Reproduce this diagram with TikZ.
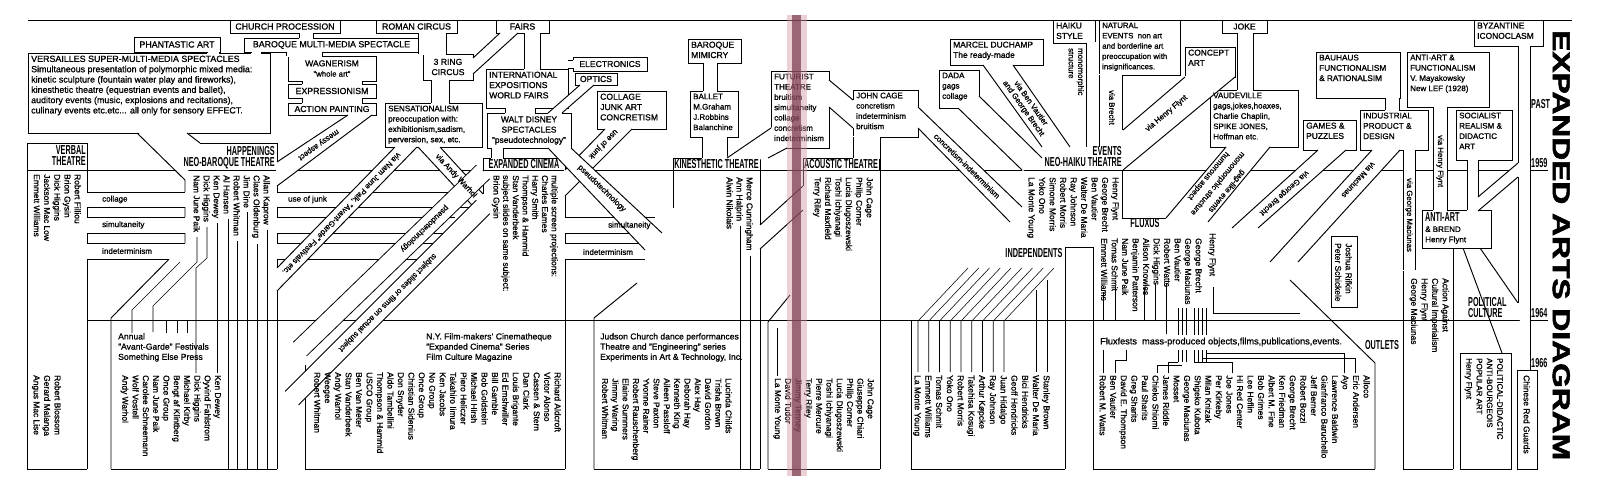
\documentclass[tikz,border=0pt]{standalone}
\usepackage{fontspec}
\setmainfont{Liberation Sans}[UprightFeatures={FakeBold=1}]
\newfontfamily\heavy[BoldFeatures={FakeBold=2}]{Liberation Sans}
\usepackage{graphicx}
\usepackage{etoolbox}
\definecolor{gutterpink}{HTML}{D49AA6}
\definecolor{gutterdark}{HTML}{7A3A4B}
\newcommand\hdf[1]{\scalebox{0.56}[1]{\fontsize{13}{13}\selectfont\bfseries #1}}
\tikzset{
  ln/.style={line width=0.95pt},
  tln/.style={line width=0.55pt},
  bxs/.style={draw, line width=0.95pt, fill=white, inner sep=0pt},
  btx/.style={anchor=north west, align=left, inner sep=0pt},
  btc/.style={align=center, inner sep=0pt},
  nm/.style={anchor=north west, rotate=-90, align=left, inner sep=0pt},
  vl/.style={anchor=west, rotate=-90, align=left, inner sep=0pt, font=\fontsize{7.8}{9.5}\selectfont},
  lab/.style={sloped, allow upside down, inner sep=0pt, align=center, font=\fontsize{7.8}{9}\selectfont},
  hd/.style={inner sep=0pt, align=right, font=\fontsize{11.5}{11.5}\selectfont},
  txt/.style={anchor=north west, align=left, inner sep=0pt, font=\fontsize{8.6}{10.2}\selectfont},
  cl/.style={anchor=west, inner sep=0pt, font=\fontsize{8}{9}\selectfont},
}
\def\boxtexts{}
\newcommand\bx[7]{%
  \node[bxs, minimum width=#4pt, minimum height=#5pt] (#1) at ({#2+#4/2},{#3+#5/2}) {};
  \gappto\boxtexts{\node[btx, font=\fontsize{#6}{10.3}\selectfont] (#1-t) at ({#2+3},{#3+2.5}) {#7};}}
\newcommand\bxc[7]{%
  \node[bxs, minimum width=#4pt, minimum height=#5pt] (#1) at ({#2+#4/2},{#3+#5/2}) {};
  \gappto\boxtexts{\node[btc, font=\fontsize{#6}{10.3}\selectfont] (#1-t) at ({#2+#4/2},{#3+#5/2}) {#7};}}
% free band (perpendicular ends)
\newcommand\band[5]{%
  \draw[line width=#5pt+1.9pt] (#1,#2)--(#3,#4);
  \draw[white,line width=#5pt, shorten <=-0.8pt, shorten >=-0.8pt] (#1,#2)--(#3,#4);}
% quad band: edge #1--#2 and edge #3--#4, open ends #1--#3 and #2--#4
\newcommand\qb[4]{%
  \fill[white] #1--#2--#4--#3--cycle;
  \draw[white, line width=2.6pt] #1--#3 #2--#4;
  \draw[ln] #1--#2 #3--#4;}
\newcommand\blab[7]{\path (#2,#3)--(#4,#5) node[lab, pos=#6] (#1) {#7};}
\newcommand\nms[5]{\node[nm, font=\fontsize{8.4}{#4}\selectfont] (#1) at (#2,#3) {#5};}
\begin{document}
\begin{tikzpicture}[x=1pt,y=-1pt]
\useasboundingbox (0,0) rectangle (1600,493);
\fill[white] (0,0) rectangle (1600,493);

% ---------- grid lines ----------
\draw[ln] (28,20)--(1572,20);
\draw[ln] (27,170)--(1548,170);
\draw[ln] (87,320)--(1548,320);
\draw[ln] (27,469)--(87,469) (111,469)--(277,469) (305,469)--(565,469) (594,469)--(760,469)
  (768,469)--(880,469) (911,469)--(1065,469) (1093,469)--(1375,469) (1403,469)--(1453,469);
\draw[ln] (27,143)--(27,469) (87,143)--(87,469) (27,143)--(87,143);
\draw[ln] (185,180)--(185,243)--(111,318)--(111,469);
\draw[ln] (200,143)--(277,143)--(277,469);
\draw[ln] (305,365)--(305,469);
\draw[ln] (483,158)--(483,200);
\draw[ln] (565,158)--(565,469);
\draw[ln] (673,158)--(673,208);
\draw[ln] (637,283)--(594,318)--(594,469);
\draw[ln] (760,158)--(760,469);
\draw[ln] (790,295)--(768,322)--(768,469);
\draw[ln] (803,158)--(803,188);
\draw[ln] (880,158)--(880,469);
\draw[ln] (911,320)--(911,469);
\draw[ln] (1065,247)--(1065,469) (1093,247)--(1093,469) (1065,247)--(1093,247);
\draw[ln] (1122,145)--(1122,218)--(1168,218);
\draw[ln] (1290,280)--(1375,363)--(1375,469);
\draw[ln] (1403,270)--(1403,469);
\draw[ln] (1453,248)--(1453,469);
\draw[ln] (1463,248)--(1502,353) (1480,248)--(1518,303);
\draw[ln] (1460,353) rectangle (1511,469);
\draw[ln] (1517,370) rectangle (1537,469);
\draw[ln] (1331,236) rectangle (1357,307);

% ---------- boxes ----------
\bxc{church}{230}{20}{110}{13}{8.8}{CHURCH PROCESSION}
\bxc{phant}{134}{37}{86}{15}{8.8}{PHANTASTIC ART}
\bxc{baroq}{244}{38}{175}{14}{8.8}{BAROQUE MULTI-MEDIA SPECTACLE}
\bxc{roman}{376}{20}{81}{13}{8.8}{ROMAN CIRCUS}
\bxc{fairs}{496}{20}{53}{13}{8.8}{FAIRS}
\bxc{ring}{423}{54}{50}{26}{8.6}{3 RING\\CIRCUS}
\bxc{wagner}{288}{56}{88}{25}{8.6}{WAGNERISM\\{\fontsize{7.8}{10}\selectfont"whole art"}}
\bxc{expr}{288}{84}{88}{14}{8.8}{EXPRESSIONISM}
\bxc{action}{288}{103}{88}{12}{8.6}{ACTION PAINTING}
\bx{vers}{28}{53}{242}{80}{8.9}{VERSAILLES SUPER-MULTI-MEDIA SPECTACLES\\Simultaneous presentation of polymorphic mixed media:\\kinetic sculpture (fountain water play and fireworks),\\kinesthetic theatre (equestrian events and ballet),\\auditory events (music, explosions and recitations),\\culinary events etc.etc... all only for sensory EFFECT.}
\bx{sens}{385}{103}{97}{44}{8.1}{SENSATIONALISM\\preoccupation with:\\exhibitionism,sadism,\\perversion, sex, etc.}
\bx{intl}{486}{69}{82}{39}{8.6}{INTERNATIONAL\\EXPOSITIONS\\WORLD FAIRS}
\bxc{electr}{573}{57}{74}{14}{8.6}{ELECTRONICS}
\bxc{optics}{575}{73}{42}{12}{8.6}{OPTICS}
\bxc{disney}{487}{113}{84}{35}{8.4}{WALT DISNEY\\SPECTACLES\\"pseudotechnology"}
\bx{colj}{597}{91}{69}{38}{8.6}{COLLAGE\\JUNK ART\\CONCRETISM}
\bx{mimic}{688}{39}{53}{24}{8.6}{BAROQUE\\MIMICRY}
\bx{ballet}{690}{91}{48}{46}{8}{BALLET\\M.Graham\\J.Robbins\\Balanchine}
\bx{futur}{771}{71}{58}{77}{8}{FUTURIST\\THEATRE\\bruitism\\simultaneity\\collage\\concretism\\indeterminism}
\bx{cage}{853}{90}{65}{47}{8}{JOHN CAGE\\concretism\\indeterminism\\bruitism}
\bx{dada}{939}{70}{40}{38}{8}{DADA\\gags\\collage}
\bx{duch}{950}{39}{93}{26}{8.4}{MARCEL DUCHAMP\\The ready-made}
\bx{haiku}{1053}{20}{42}{23}{8.4}{HAIKU\\STYLE}
\bx{natur}{1099}{20}{81}{55}{7.8}{NATURAL\\EVENTS\ \ non art\\and borderline art\\preoccupation with\\insignificances.}
\bx{concept}{1185}{47}{50}{30}{8.4}{CONCEPT\\ART}
\bxc{joke}{1222}{20}{45}{13}{8.6}{JOKE}
\bx{vaude}{1210}{90}{88}{57}{8}{VAUDEVILLE\\gags,jokes,hoaxes,\\Charlie Chaplin,\\SPIKE JONES,\\Hoffman etc.}
\bx{games}{1303}{120}{53}{30}{8.4}{GAMES \&\\PUZZLES}
\bx{bauh}{1316}{52}{84}{46}{8.2}{BAUHAUS\\FUNCTIONALISM\\\& RATIONALSIM}
\bx{indus}{1360}{110}{68}{40}{8.2}{INDUSTRIAL\\PRODUCT \&\\DESIGN}
\bx{antif}{1407}{52}{82}{55}{8}{ANTI-ART \&\\FUNCTIONALISM\\V. Mayakowsky\\New LEF (1928)}
\bx{social}{1456}{110}{56}{50}{8}{SOCIALIST\\REALISM \&\\DIDACTIC\\ART}
\bx{byz}{1474}{20}{69}{26}{8.4}{BYZANTINE\\ICONOCLASM}
\bx{brend}{1422}{210}{69}{38}{8}{\hdf{ANTI-ART}\\\& BREND\\Henry Flynt}
\bxc{hexp}{483}{158}{82}{12}{8}{\hdf{EXPANDED CINEMA}}
\bxc{hkin}{673}{158}{87}{12}{8}{\hdf{KINESTHETIC THEATRE}}
\bxc{hac}{803}{158}{76}{12}{8}{\hdf{ACOUSTIC THEATRE}}

% versailles funnel
\fill[white] (138,132.2)--(187,132.2)--(199,142.4)--(185,179)--cycle;
\draw[ln] (137,133)--(185,180);
\draw[ln] (187,133)--(200,143);

% ---------- stems ----------
\qb{(207,52)}{(207,53)}{(219,52)}{(219,53)}
\qb{(251,52)}{(251,53)}{(261,52)}{(261,53)}
\qb{(299,33)}{(299,38)}{(313,33)}{(313,38)}
\qb{(286,52)}{(286,56)}{(322,52)}{(322,56)}
\qb{(302,81)}{(302,84)}{(362,81)}{(362,84)}
\qb{(302,98)}{(302,103)}{(362,98)}{(362,103)}
\qb{(418,33)}{(418,54)}{(446,33)}{(446,54)}
\qb{(431,80)}{(431,103)}{(449,80)}{(449,103)}
\qb{(500,33)}{(473,58)}{(518,33)}{(473,74)}
\qb{(524,33)}{(524,69)}{(540,33)}{(540,69)}
\qb{(568,60)}{(573,60)}{(568,68)}{(573,68)}
\qb{(580,85)}{(548,113)}{(594,85)}{(562,113)}
\qb{(505,108)}{(505,113)}{(535,108)}{(535,113)}
\qb{(491,148)}{(491,158)}{(503,148)}{(503,158)}
\qb{(703,63)}{(703,91)}{(717,63)}{(717,91)}
\qb{(702,137)}{(702,158)}{(727,137)}{(727,158)}
\qb{(771,128)}{(727,158)}{(787,148)}{(768,158)}
\qb{(829,80)}{(853,100)}{(829,107)}{(853,128)}
\qb{(853,137)}{(853,158)}{(880,137)}{(880,158)}
\qb{(958,108)}{(1022,170)}{(979,96)}{(1042,158)}
\qb{(983,65)}{(1042,147)}{(1013,65)}{(1070,147)}
\qb{(1086,43)}{(1086,147)}{(1099,43)}{(1099,147)}
\qb{(1099,75)}{(1099,147)}{(1122,75)}{(1122,147)}
\qb{(1185,77)}{(1123,130)}{(1235,77)}{(1123,170)}
\qb{(1237,33)}{(1237,90)}{(1253,33)}{(1253,90)}
\qb{(1226,147)}{(1166,218)}{(1270,147)}{(1208,222)}
\qb{(1318,150)}{(1232,228)}{(1346,150)}{(1258,228)}
\qb{(1372,150)}{(1270,262)}{(1400,150)}{(1298,262)}
\qb{(1403,150)}{(1403,270)}{(1415,150)}{(1415,270)}
\qb{(1385,98)}{(1385,110)}{(1399,98)}{(1399,110)}
\qb{(1433,107)}{(1433,210)}{(1447,107)}{(1447,210)}
\qb{(1467,160)}{(1467,210)}{(1478,160)}{(1478,210)}
\qb{(1518,46)}{(1518,303)}{(1530,46)}{(1530,370)}
\qb{(1518,163)}{(1478,197)}{(1518,177)}{(1478,211)}

% ---------- channels ----------
\qb{(87,192)}{(185,192)}{(87,207)}{(185,207)}
\qb{(87,217)}{(185,217)}{(87,233)}{(185,233)}
\qb{(87,243)}{(185,243)}{(87,259)}{(169,259)}
\qb{(277,192)}{(470,192)}{(277,207)}{(470,207)}
\qb{(277,217)}{(455,217)}{(277,233)}{(455,233)}
\qb{(277,243)}{(440,243)}{(277,259)}{(440,259)}
\qb{(565,217)}{(655,217)}{(565,233)}{(655,233)}
\qb{(565,243)}{(645,243)}{(565,259)}{(645,259)}
\qb{(803,186)}{(760,225)}{(803,210)}{(760,249)}

% ---------- diagonal bands ----------
\qb{(348,115)}{(277,162)}{(372,115)}{(277,186)}
\qb{(418,147)}{(483,217)}{(440,147)}{(483,194)}
\qb{(395,147)}{(277,268)}{(417,147)}{(277,291)}
\band{483}{172}{300}{349}{18}
\band{483}{207}{292}{398}{18}
\qb{(605,129)}{(565,170)}{(632,129)}{(565,196)}
\qb{(548,148)}{(645,250)}{(571,148)}{(662,233)}
\qb{(918,107)}{(1022,207)}{(918,128)}{(1010,222)}

% ---------- box texts (after bands) ----------
\boxtexts

% ---------- band labels ----------
\blab{lmessy}{360}{115}{277}{174}{0.5}{messy aspect}
\blab{lwarhol}{429}{147}{483}{205}{0.5}{via Andy Warhol}
\blab{lpaik}{406}{147}{277}{280}{0.5}{via Nam June Paik, "Avant-Garde" Festivals etc.}
\blab{lpseudoa}{483}{172}{300}{349}{0.32}{pseudotechnology}
\blab{lsubj}{483}{207}{292}{398}{0.5}{subject slides or films on actual subject}
\blab{ljunk}{618}{129}{565}{183}{0.28}{use of junk}
\blab{lpseudob}{560}{148}{655}{240}{0.44}{pseudotechnology}
\blab{lconc}{918}{118}{1016}{214}{0.5}{concretism-indeterminism}
\blab{lben}{998}{65}{1056}{147}{0.5}{via Ben Vautier\\and George Brecht}
\blab{lflynta}{1123}{150}{1210}{77}{0.5}{via Henry Flynt}
\blab{lhum}{1238.8}{139.3}{1177.8}{212.3}{0.5}{humorous aspect}
\blab{lmono}{1248}{147}{1187}{220}{0.5}{monomorphic structure}
\blab{lgag}{1257.2}{154.7}{1196.2}{227.7}{0.5}{gag-like events}
\blab{lgb}{1332}{150}{1245}{228}{0.55}{via George Brecht}
\blab{lmac}{1386}{150}{1284}{262}{0.27}{via Maciunas}
\node[cl] (lcol) at (102,199.5) {collage};
\node[cl] (lsim) at (102,225) {simultaneity};
\node[cl] (lind) at (102,251) {indeterminism};
\node[cl] (ljunkb) at (288,199.5) {use of junk};
\node[cl] (lsimb) at (608,225.5) {simultaneity};
\node[cl] (lindb) at (583,252) {indeterminism};
\node[vl] (lvgm) at (1409,178) {via George Maciunas};
\node[vl] (lvhf) at (1440,135) {via Henry Flynt};
\node[vl] (lvb) at (1112,90) {via Brecht};
\node[nm, font=\fontsize{7.8}{9.5}\selectfont] (lmonoh) at (1084,48) {monomorphic\\structure};

% ---------- headers ----------
\node[hd, anchor=north east] (hverbal) at (86,145) {\hdf{VERBAL}\\\hdf{THEATRE}};
\node[hd, anchor=north east] (hhapp) at (275,146) {\hdf{HAPPENINGS}\\\hdf{NEO-BAROQUE THEATRE}};
\node[hd, anchor=north east] (hevents) at (1122,146) {\hdf{EVENTS}\\\hdf{NEO-HAIKU THEATRE}};
\node[inner sep=0pt] (hflux) at (1145,223) {\hdf{FLUXUS}};
\node[inner sep=0pt] (hind) at (1034,253) {\hdf{INDEPENDENTS}};
\node[inner sep=0pt] (hout) at (1382,345) {\hdf{OUTLETS}};
\node[hd, anchor=north west, align=left] (hpol) at (1468,297) {\hdf{POLITICAL}\\\hdf{CULTURE}};
\node[anchor=south west, inner sep=0pt] (ypast) at (1531,109) {\hdf{PAST}};
\node[anchor=south west, inner sep=0pt] (y1959) at (1531,168) {\hdf{1959}};
\node[anchor=south west, inner sep=0pt] (y1964) at (1531,318) {\hdf{1964}};
\node[anchor=south west, inner sep=0pt] (y1966) at (1531,368) {\hdf{1966}};
\node[rotate=-90, anchor=north west, inner sep=0pt] (title) at (1570,30) {\resizebox{430pt}{17pt}{\heavy\bfseries EXPANDED ARTS DIAGRAM}};

% ---------- name lists ----------
\nms{nverbal}{81}{174}{10.2}{Robert Filliou\\Brion Gysin\\Dick Higgins\\Jackson Mac Low\\Emmett Williams}
\nms{nverball}{61}{375}{10.5}{Robert Blossom\\Gerard Malanga\\Angus Mac Lise}
\nms{nhapp}{270}{175}{10}{Allan Kaprow\\Claes Oldenburg\\Jim Dine\\Robert Whitman\\Al Hansen\\Ken Dewey\\Dick Higgins\\Nam June Paik}
\nms{nhappl}{221}{375}{10.3}{Ken Dewey\\Oyvind Fahlstrom\\Dick Higgins\\Michael Kirby\\Bengt af Klintberg\\Once Group\\Nam June Paik\\Carolee Schneemann\\Wolf Vostell\\Andy Warhol}
\node[txt] (thapp) at (118,333) {Annual\\"Avant-Garde" Festivals\\Something Else Press};
\nms{nexp}{558}{175}{9.7}{multiple screen projections:\\Charles Eames\\Harry Smith\\Thompson \& Hammid\\Stan Vanderbeek\\subject slides on same subject:\\Brion Gysin}
\node[txt] (texp) at (426,333) {N.Y. Film-makers' Cinematheque\\"Expanded Cinema" Series\\Film Culture Magazine};
\nms{nexpl}{561}{372}{10.45}{Richard Aldcroft\\Victor Alonso\\Cassen \& Stern\\Dan Clark\\Louis Brigante\\Ed Emshwiller\\Bill Gamble\\Bob Goldstein\\Michael Hirsh\\Piero Heliczer\\Takahiro Iimura\\Ken Jacobs\\No Group\\Once Group\\Christian Sidenius\\Don Snyder\\Aldo Tambellini\\Thompson \& Hammid\\USCO Group\\Ben Van Meter\\Stan Vanderbeek\\Andy Warhol\\Weegee\\Robert Whitman}
\nms{nkin}{753}{177}{10}{Merce Cunningham\\Ann Halprin\\Alwin Nikolais}
\node[txt] (tkin) at (600,333) {Judson Church dance performances\\Theatre and "Engineering" series\\Experiments in Art \& Technology, Inc.};
\nms{nkinl}{732}{378}{10.3}{Lucinda Childs\\Trisha Brown\\David Gordon\\Alex Hay\\Deborah Hay\\Kenneth King\\Aileen Passloff\\Steve Paxton\\Yvonne Rainer\\Robert Rauschenberg\\Elaine Summers\\Jimmy Waring\\Robert Whitman}
\nms{nac}{873}{177}{10.4}{John Cage\\Philip Corner\\Lucia Dlugoszewski\\Toshi Ichiyanagi\\Richard Maxfield\\Terry Riley}
\nms{nacl}{874}{378}{10.3}{John Cage\\Giuseppe Chiari\\Philip Corner\\Lucia Dlugoszewski\\Toshi Ichiyanagi\\Pierre Mercure\\Terry Riley\\Jimmy Tenney\\David Tudor\\La Monte Young}
\nms{nneo}{1119}{177}{10.5}{Henry Flynt\\George Brecht\\Ben Vautier\\Walter De Maria\\Ray Johnson\\Robert Morris\\Simone Morris\\Yoko Ono\\La Monte Young}
\nms{nind}{1050}{375}{10.75}{Stanley Brown\\Walter De Maria\\Bici Hendricks\\Geoff Hendricks\\Juan Hidalgo\\Ray Johnson\\Arthur K\o pcke\\Takehisa Kosugi\\Robert Morris\\Yoko Ono\\Tomas Schmit\\Emmett Williams\\La Monte Young}
\nms{nfluxhf}{1216}{233}{10.5}{Henry Flynt}
\nms{nflux}{1202}{238}{10.5}{George Brecht\\George Maciunas\\Ben Vautier\\Robert Watts\\Dick Higgins\\Alison Knowles\\Benjamin Patterson\\Nam June Paik\\Tomas Schmit\\Emmett Williams}
\node[txt, anchor=west, font=\fontsize{9.2}{10.2}\selectfont] (tflux) at (1100,342) {Fluxfests\ \ mass-produced objects,films,publications,events.};
\nms{nfluxl}{1370}{375}{10.56}{Alloco\\Eric Andersen\\Ayo\\Lawrence Baldwin\\Gianfranco Baruchello\\Jeff Berner\\Robert Bozzi\\George Brecht\\Ken Friedman\\Albert M. Fine\\Bob Grimes\\Lee Heflin\\Hi Red Center\\Joe Jones\\Per Kirkeby\\Milan Knizak\\Shigeko Kubota\\George Maciunas\\Mosset\\James Riddle\\Chieko Shiomi\\Paul Sharits\\Greg Sharits\\David E. Thompson\\Ben Vautier\\Robert M. Watts}
\nms{ngames}{1352}{243}{10.5}{Joshua Rifkin\\Peter Schickele}
\nms{npol}{1449}{278}{10.5}{Action Against\\Cultural Imperialism\\Henry Flynt\\George Maciunas}
\node[nm, font=\fontsize{8}{10.3}\selectfont] (npold) at (1503,358) {POLITICAL-DIDACTIC\\ANTI-BOURGEOIS\\POPULAR ART\\Henry Flynt};
\nms{nchina}{1530}{375}{10}{Chinese Red Guards}

% ---------- connection lines ----------
\draw[tln] (267,230)--(267,469) (257,244)--(257,469) (247,212)--(247,469) (237,241)--(237,469) (228,219)--(228,469);
\draw[tln] (217,223)--(217,373);
\draw[tln] (207,227)--(207,258)--(196,268)--(196,373);
\draw[tln] (197,237)--(197,262)--(153,306)--(153,332);
\draw[tln] (180,262)--(132,310)--(132,333);
\draw[tln] (187,320)--(187,333) (177,320)--(177,333) (166,320)--(166,333);
\draw[tln] (750,256)--(750,469) (740,226)--(740,469);
\draw[tln] (777,328)--(777,376);
\foreach \i in {0,...,8} {\draw[tln] ({918+10.75*\i},372)--({918+10.75*\i},321)--({968+10.75*\i},268);}
\draw[tln] (1036,290)--(1036,372) (1047,280)--(1047,372);
\draw[tln] (1213,287)--(1213,313)--(1300,313);
\foreach \x in {1178,1182,1186,1194,1198,1202,1206} {\draw[tln] (\x,308)--(\x,335) (\x,350)--(\x,362);}
\draw[tln] (1206,353)--(1344,353)--(1344,373) (1202,358)--(1355,358)--(1355,373);
\draw[tln] (1178,362)--(1168,362)--(1168,373) (1182,365)--(1157,365)--(1157,373) (1194,362)--(1232,362)--(1232,373);
\draw[tln] (1166,283)--(1166,334) (1115,286)--(1115,320) (1103,292)--(1103,320);
\draw[tln] (1155,283)--(1155,320) (1144,288)--(1144,320);
\draw[tln] (1126,350)--(1126,360)--(1115,360)--(1115,373) (1103,350)--(1103,373);

% ---------- scan gutter stripe ----------
\fill[gutterpink, fill opacity=0.45] (787,15) rectangle (807,476);
\fill[gutterdark, fill opacity=0.7] (792,15) rectangle (801,476);
\end{tikzpicture}
\end{document}
